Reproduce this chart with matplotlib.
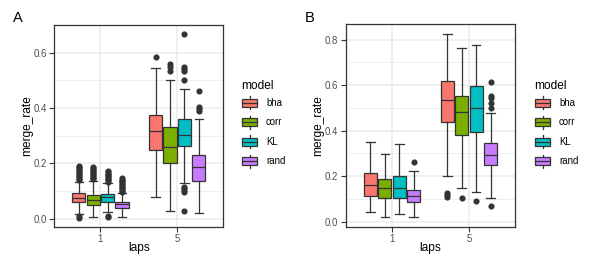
import matplotlib
matplotlib.use("Agg")
import matplotlib.pyplot as plt
from matplotlib.patches import Rectangle, Patch
from matplotlib.lines import Line2D
from matplotlib.legend_handler import HandlerBase

plt.rcParams['font.family'] = ['Liberation Sans', 'DejaVu Sans']

models = ["bha", "corr", "KL", "rand"]
colors = ["#F8766D", "#7CAE00", "#00BFC4", "#C77CFF"]
laps = ["1", "5"]

# stats per model: [whislo, q1, med, q3, whishi] for lap 1 and lap 5
A_lap1 = {
    "bha":  [0.016, 0.059, 0.076, 0.094, 0.134],
    "corr": [0.006, 0.050, 0.068, 0.086, 0.136],
    "KL":   [0.023, 0.061, 0.077, 0.089, 0.128],
    "rand": [0.006, 0.038, 0.052, 0.061, 0.092],
}
A_lap1_out = {
    "bha":  [0.140, 0.145, 0.150, 0.155, 0.160, 0.165, 0.170, 0.175, 0.180, 0.185, 0.192, 0.004, 0.008],
    "corr": [0.142, 0.147, 0.152, 0.157, 0.162, 0.167, 0.172, 0.177, 0.182, 0.188],
    "KL":   [0.133, 0.138, 0.143, 0.148, 0.153, 0.158, 0.163, 0.168, 0.172, 0.005, 0.009],
    "rand": [0.096, 0.101, 0.106, 0.111, 0.116, 0.121, 0.126, 0.131, 0.136, 0.141, 0.147],
}
A_lap5 = {
    "bha":  [0.080, 0.248, 0.317, 0.375, 0.546],
    "corr": [0.028, 0.200, 0.260, 0.333, 0.500],
    "KL":   [0.128, 0.264, 0.302, 0.359, 0.468],
    "rand": [0.022, 0.137, 0.188, 0.231, 0.359],
}
A_lap5_out = {
    "bha":  [0.585],
    "corr": [0.535, 0.547, 0.560],
    "KL":   [0.500, 0.535, 0.541, 0.547, 0.667, 0.098, 0.104, 0.110, 0.116, 0.029],
    "rand": [0.390, 0.397, 0.403, 0.463],
}
B_lap1 = {
    "bha":  [0.041, 0.113, 0.161, 0.213, 0.349],
    "corr": [0.019, 0.106, 0.147, 0.186, 0.298],
    "KL":   [0.032, 0.103, 0.150, 0.202, 0.340],
    "rand": [0.019, 0.085, 0.114, 0.139, 0.223],
}
B_lap1_out = {"bha": [], "corr": [], "KL": [], "rand": [0.260]}
B_lap5 = {
    "bha":  [0.202, 0.440, 0.535, 0.618, 0.824],
    "corr": [0.150, 0.381, 0.482, 0.553, 0.764],
    "KL":   [0.132, 0.393, 0.498, 0.594, 0.777],
    "rand": [0.105, 0.249, 0.293, 0.347, 0.479],
}
B_lap5_out = {
    "bha":  [0.110, 0.118, 0.125],
    "corr": [0.103],
    "KL":   [0.091],
    "rand": [0.498, 0.520, 0.542, 0.553, 0.614, 0.069],
}

EDGE = "#333333"
LW = 0.9
W, H = 595, 267
fig = plt.figure(figsize=(W / 100, H / 100), dpi=100)


def make_stats(vals, out):
    lo, q1, med, q3, hi = vals
    return dict(whislo=lo, q1=q1, med=med, q3=q3, whishi=hi, fliers=out)


def draw_panel(ax, lap_stats, lap_outs, ylim, major, minor):
    step = 0.1875
    for li, (stats, outs) in enumerate(zip(lap_stats, lap_outs)):
        for mi, m in enumerate(models):
            pos = li + 1 + (mi - 1.5) * step
            ax.bxp([make_stats(stats[m], outs[m])], positions=[pos],
                   widths=0.172, capwidths=0.11, patch_artist=True,
                   boxprops=dict(facecolor=colors[mi], edgecolor=EDGE, linewidth=LW),
                   medianprops=dict(color=EDGE, linewidth=LW),
                   whiskerprops=dict(color=EDGE, linewidth=LW),
                   capprops=dict(color=EDGE, linewidth=LW),
                   flierprops=dict(marker='o', markerfacecolor=EDGE, markeredgecolor=EDGE,
                                   markersize=3.4, linestyle='none'),
                   manage_ticks=False, zorder=3)
    ax.set_xlim(0.4, 2.6)
    ax.set_ylim(*ylim)
    ax.set_xticks([1, 2])
    ax.set_xticklabels(laps)
    ax.set_yticks(major)
    ax.set_yticklabels([f"{v:.1f}" for v in major])
    ax.set_yticks(minor, minor=True)
    ax.grid(True, which='major', color='#EBEBEB', linewidth=1.1, zorder=0)
    ax.grid(True, which='minor', axis='y', color='#EBEBEB', linewidth=0.6, zorder=0)
    ax.set_axisbelow(True)
    ax.tick_params(axis='both', which='major', length=3.5, width=0.8, color=EDGE,
                   labelcolor='#4D4D4D', labelsize=6.9, pad=2)
    ax.tick_params(axis='y', which='minor', length=0)
    for s in ax.spines.values():
        s.set_color(EDGE)
        s.set_linewidth(0.9)
    ax.set_xlabel("laps", fontsize=8.6)
    ax.set_ylabel("merge_rate", fontsize=8.6)
    ax.xaxis.label.set_va('center')
    ax.yaxis.label.set_va('center')
    ax.xaxis.set_label_coords(0.5, -0.106)
    ax.yaxis.set_label_coords((26.7 - 54.3) / 169, 0.5)


class BoxKey(HandlerBase):
    def create_artists(self, legend, orig_handle, xdescent, ydescent, width, height, fontsize, trans):
        fc = orig_handle.get_facecolor()
        x0, y0 = -xdescent, -ydescent
        rect = Rectangle((x0 + 0.05 * width, y0 + 0.27 * height), 0.9 * width, 0.46 * height,
                         facecolor=fc, edgecolor=EDGE, linewidth=LW, transform=trans)
        med = Line2D([x0 + 0.05 * width, x0 + 0.95 * width], [y0 + 0.5 * height] * 2,
                     color=EDGE, linewidth=LW, transform=trans)
        w1 = Line2D([x0 + 0.5 * width] * 2, [y0 + 0.12 * height, y0 + 0.27 * height],
                    color=EDGE, linewidth=LW, transform=trans)
        w2 = Line2D([x0 + 0.5 * width] * 2, [y0 + 0.73 * height, y0 + 0.88 * height],
                    color=EDGE, linewidth=LW, transform=trans)
        return [w1, w2, rect, med]


def add_legend(x_px):
    handles = [Patch(facecolor=c, label=m) for c, m in zip(colors, models)]
    leg = fig.legend(handles=handles, title="model", loc='upper left',
                     bbox_to_anchor=(x_px / W, 1 - 80 / H), bbox_transform=fig.transFigure,
                     frameon=False, fontsize=6.9, title_fontsize=8.6,
                     handler_map={Patch: BoxKey()}, handlelength=1.75, handleheight=2.45,
                     handletextpad=0.8, labelspacing=0.2, borderpad=0, borderaxespad=0,
                     alignment='left')
    return leg


ax1 = fig.add_axes([54.3 / W, (H - 226.7) / H, 169 / W, 201.7 / H])
draw_panel(ax1, [A_lap1, A_lap5], [A_lap1_out, A_lap5_out], (-0.029, 0.700),
           [0.0, 0.2, 0.4, 0.6], [0.1, 0.3, 0.5])
ax2 = fig.add_axes([346 / W, (H - 226.7) / H, 169 / W, 202.4 / H])
draw_panel(ax2, [B_lap1, B_lap5], [B_lap1_out, B_lap5_out], (-0.022, 0.867),
           [0.0, 0.2, 0.4, 0.6, 0.8], [0.1, 0.3, 0.5, 0.7])

add_legend(241.5)
add_legend(534.5)

fig.text(13.3 / W, 1 - 18 / H, "A", fontsize=10.5, ha='left', va='center')
fig.text(304.3 / W, 1 - 18.3 / H, "B", fontsize=10.5, ha='left', va='center')

fig.savefig("out.png", dpi=100)
